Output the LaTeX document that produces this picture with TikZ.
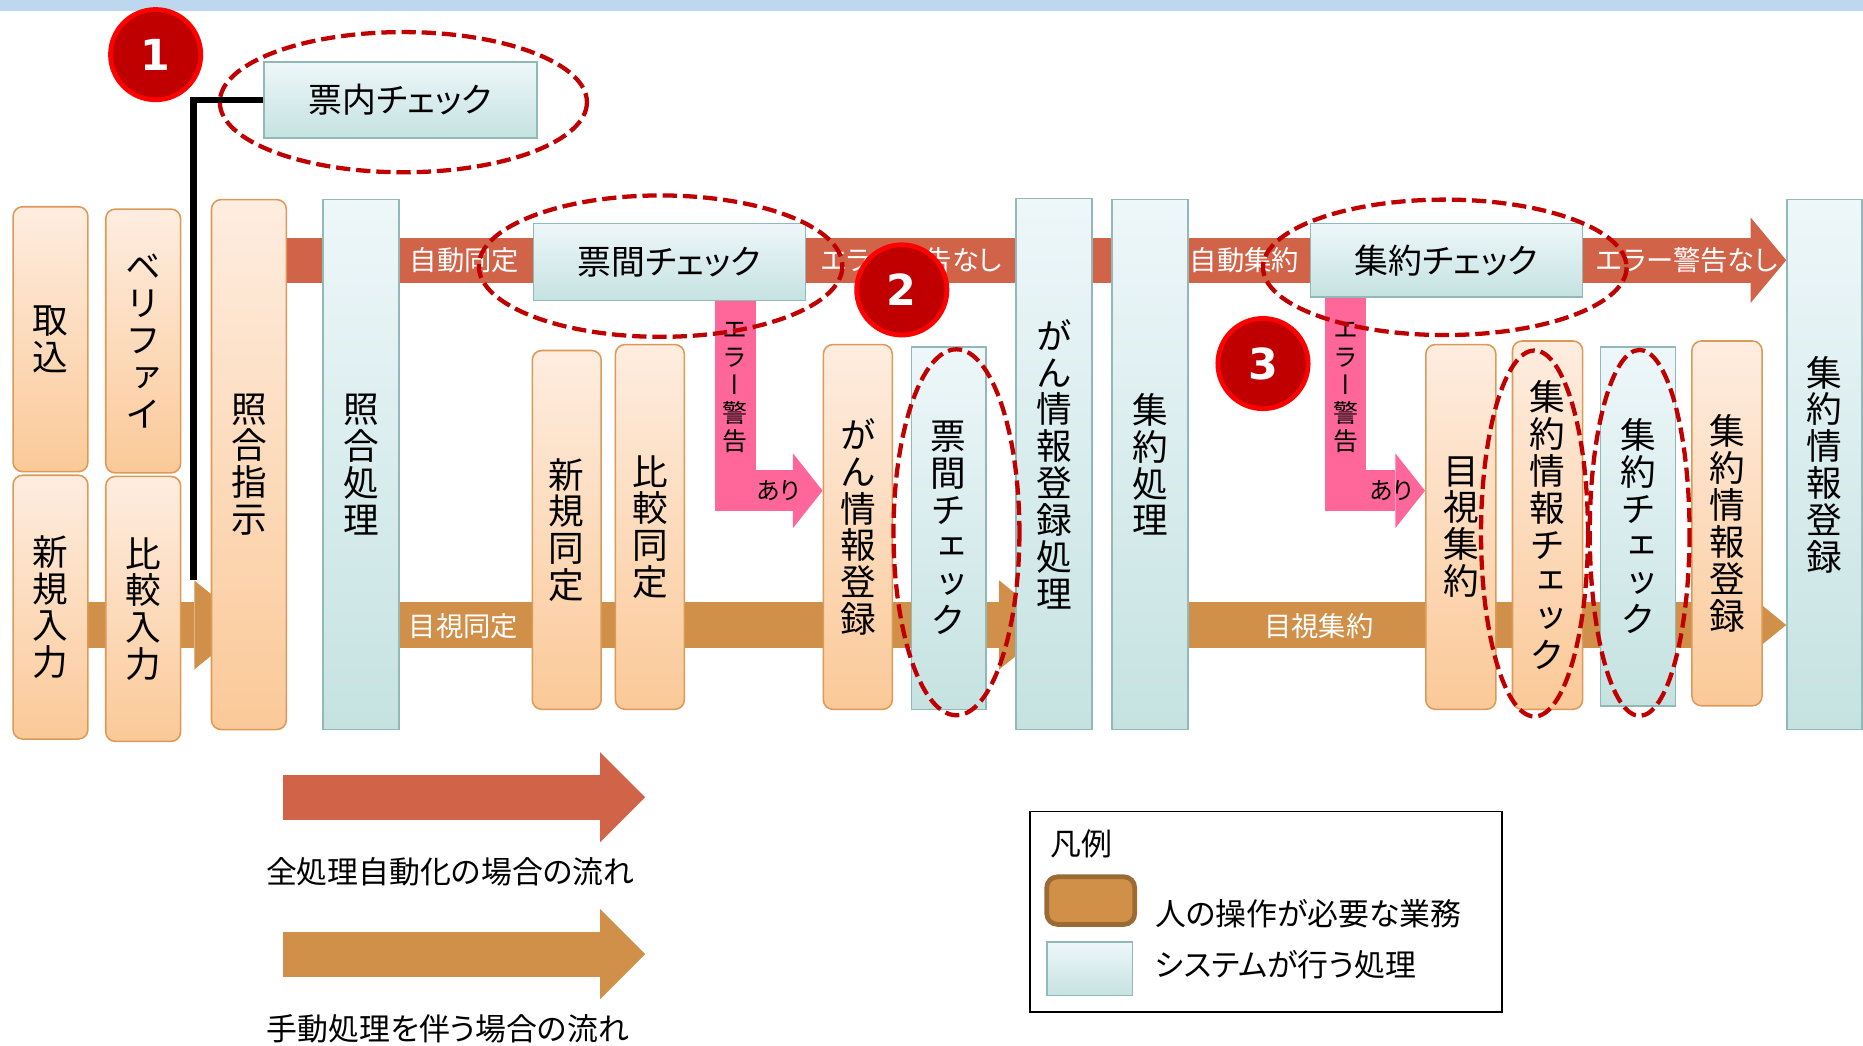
\documentclass[tikz,border=0pt]{standalone}
\usepackage{fontspec}
\setmainfont{Noto Sans CJK JP}[RawFeature=+palt]
\newfontfamily\tatefont{Noto Sans CJK JP}[RawFeature=+vert]
\newfontfamily\numfont{DejaVu Sans}
\usetikzlibrary{arrows.meta,backgrounds}

\definecolor{autoc}{HTML}{D16349}
\definecolor{manc}{HTML}{D19049}
\definecolor{errc}{HTML}{FF6699}
\definecolor{humantop}{HTML}{FEEDE0}
\definecolor{humanbot}{HTML}{FBC998}
\definecolor{humanline}{HTML}{DB9A57}
\definecolor{systop}{HTML}{EEF7FA}
\definecolor{sysbot}{HTML}{C5E2E1}
\definecolor{sysline}{HTML}{93B8B8}
\definecolor{badgefill}{HTML}{C00000}
\definecolor{badgering}{HTML}{FF0000}
\definecolor{topband}{HTML}{BDD7EE}
\definecolor{keyfill}{HTML}{D09048}
\definecolor{keyline}{HTML}{9C6A34}

\tikzset{
  wh/.style 2 args={minimum width=#1, minimum height=#2},
  human/.style={draw=humanline, line width=1.3pt, rounded corners=8pt,
    top color=humantop, bottom color=humanbot, inner sep=0pt, align=center,
    font=\tatefont\fontsize{30}{31}\selectfont},
  system/.style={draw=sysline, line width=1.3pt,
    top color=systop, bottom color=sysbot, inner sep=0pt, align=center,
    font=\tatefont\fontsize{30}{31}\selectfont},
  checkbox/.style={system, font=\fontsize{28.5}{30}\selectfont},
  autoband/.style={draw=autoc, line width=38pt,
    -{Triangle[length=30pt, width=72pt, line width=0pt]}},
  manband/.style={draw=manc, line width=38pt,
    -{Triangle[length=46pt, width=75pt, line width=0pt]}},
  errband/.style={draw=errc, line width=35pt,
    -{Triangle[length=25pt, width=63pt, line width=0pt]}},
  bandlabel/.style={text=white, inner sep=0pt, font=\fontsize{23}{25}\selectfont},
  errlabel/.style={inner sep=0pt, align=center, font=\tatefont\fontsize{21}{23.5}\selectfont},
  arilabel/.style={inner sep=0pt, font=\fontsize{20}{22}\selectfont},
  highlight/.style={draw=badgefill, line width=3.6pt, dash pattern=on 12pt off 5pt},
  badge/.style={circle, fill=badgefill, draw=badgering, line width=4pt,
    minimum size=76pt, inner sep=0pt, text=white,
    font=\numfont\bfseries\fontsize{36}{36}\selectfont},
  ctrlline/.style={line width=5.5pt},
  legtext/.style={inner sep=0pt, font=\fontsize{26}{28}\selectfont},
}

\begin{document}
\begin{tikzpicture}[x=1pt, y=-1pt]
\useasboundingbox (0,0) rectangle (1568,880);

% input columns
\node[human, wh={63}{223}] (torikomi) at (42.5,285.5) {取\\込};
\node[human, wh={63}{222}] (shinki_nyu) at (42.5,511) {新\\規\\入\\力};
\node[human, wh={63}{222}] (verify) at (120.5,287) {ベ\\リ\\フ\\ァ\\イ};
\node[human, wh={63}{223}] (hikaku_nyu) at (120.5,512.5) {比\\較\\入\\力};
\node[human, wh={63}{446}] (shiji) at (209.5,391) {照\\合\\指\\示};
\node[system, wh={64}{446}] (shori) at (304,391) {照\\合\\処\\理};

% identification
\node[human, wh={58}{302}] (shinki_dotei) at (477,446) {新\\規\\同\\定};
\node[human, wh={58}{307}] (hikaku_dotei) at (547,443.5) {比\\較\\同\\定};
\node[human, wh={58}{307}] (gan_toroku) at (722,443.5) {が\\ん\\情\\報\\登\\録};
\node[system, wh={63}{305}] (hyokan_v) at (798.5,444.5) {票\\間\\チ\\ェ\\ッ\\ク};
\node[system, wh={64}{447}] (gan_shori) at (887,390.5) {が\\ん\\情\\報\\登\\録\\処\\理};

% aggregation
\node[system, wh={64}{446}] (shuyaku_shori) at (968,391) {集\\約\\処\\理};
\node[human, wh={59}{307}] (mokushi) at (1229.5,443.5) {目\\視\\集\\約};
\node[human, wh={59}{310}] (shuyaku_jcheck) at (1302.5,442) {集\\約\\情\\報\\チ\\ェ\\ッ\\ク};
\node[system, wh={63}{302}] (shuyaku_check_v) at (1378.5,443) {集\\約\\チ\\ェ\\ッ\\ク};
\node[human, wh={59}{307}] (shuyaku_toroku_h) at (1453.5,440.5) {集\\約\\情\\報\\登\\録};
\node[system, wh={63}{446}] (shuyaku_toroku) at (1535.5,391) {集\\約\\情\\報\\登\\録};

% check boxes
\node[checkbox, wh={230}{64}] (hyonai) at (337,84) {票内チェック};
\node[checkbox, wh={229}{65}] (hyokan) at (563.5,220.5) {票間チェック};
\node[checkbox, wh={229}{62}] (shuyaku_chk) at (1217.5,219) {集約チェック};

% band texts
\node[bandlabel] (lab_auto1) at (391,219) {自動同定};
\node[bandlabel] (lab_ok1) at (767,219) {エラー警告なし};
\node[bandlabel] (lab_auto2) at (1047.5,219) {自動集約};
\node[bandlabel] (lab_ok2) at (1420,219) {エラー警告なし};
\node[bandlabel] (lab_man1) at (390,527) {目視同定};
\node[bandlabel] (lab_man2) at (1110,527) {目視集約};

% error branches
\coordinate (e1) at (619,413);
\coordinate (e2) at (1132.5,413);
\node[errlabel] (err1) at (619,326) {エ\\ラ\\ー\\警\\告};
\node[errlabel] (err2) at (1132.5,326) {エ\\ラ\\ー\\警\\告};
\node[arilabel] (ari1) at (655,413) {あり};
\node[arilabel] (ari2) at (1171,413) {あり};

% link to 票内チェック
\coordinate (ctrlend) at (163,488);
\draw[ctrlline] (hyonai.west) -| (ctrlend);

% marks
\draw[highlight] (339.5,86) ellipse [x radius=154.5, y radius=59];
\draw[highlight] (556,224) ellipse [x radius=153, y radius=59.5];
\draw[highlight] (1216,225) ellipse [x radius=153, y radius=57];
\draw[highlight] (805,448) ellipse [x radius=53, y radius=154];
\draw[highlight] (1291.5,449) ellipse [x radius=45, y radius=154];
\draw[highlight] (1380,448.5) ellipse [x radius=42, y radius=154];

\node[badge] (b1) at (131,46) {1};
\node[badge] (b2) at (759,244) {2};
\node[badge] (b3) at (1063,306) {3};

% legend
\coordinate (k1s) at (238,671);
\coordinate (k1e) at (543,671);
\coordinate (k2s) at (238,803);
\coordinate (k2e) at (543,803);
\draw[autoband, -{Triangle[length=38pt, width=76pt, line width=0pt]}] (k1s) -- (k1e);
\draw[manband, -{Triangle[length=38pt, width=76pt, line width=0pt]}] (k2s) -- (k2e);
\node[legtext] (k1t) at (379,734) {全処理自動化の場合の流れ};
\node[legtext] (k2t) at (377,866) {手動処理を伴う場合の流れ};

\node[draw, line width=1.5pt, inner sep=0pt, wh={397}{169}] (legend) at (1065.5,767.5) {};
\node[legtext] (hanrei) at (910,710) {凡例};
\node[draw=keyline, fill=keyfill, line width=4pt, rounded corners=9pt, wh={74}{40}] (keyhuman) at (918,758) {};
\node[system, wh={72}{45}] (keysys) at (917,815.5) {};
\node[legtext, anchor=west] (keyhuman_t) at (972,769) {人の操作が必要な業務};
\node[legtext, anchor=west] (keysys_t) at (972,812) {システムが行う処理};

\begin{pgfonlayer}{background}
\fill[topband] (0,0) rectangle (1568,9);
\coordinate (a1) at (0,219);
\coordinate (m1) at (0,526);
\draw[autoband] (shiji |- a1) -- (shuyaku_toroku.west |- a1);
\draw[manband] (shinki_nyu |- m1) -- (shiji |- m1);
\draw[manband] (shori |- m1) -- (gan_shori |- m1);
\draw[manband] (shuyaku_shori |- m1) -- (shuyaku_toroku.west |- m1);
\draw[errband] (hyokan.south -| e1) |- (gan_toroku.west |- e1);
\draw[errband] (shuyaku_chk.south -| e2) |- (mokushi.west |- e2);
\end{pgfonlayer}
\end{tikzpicture}
\end{document}
